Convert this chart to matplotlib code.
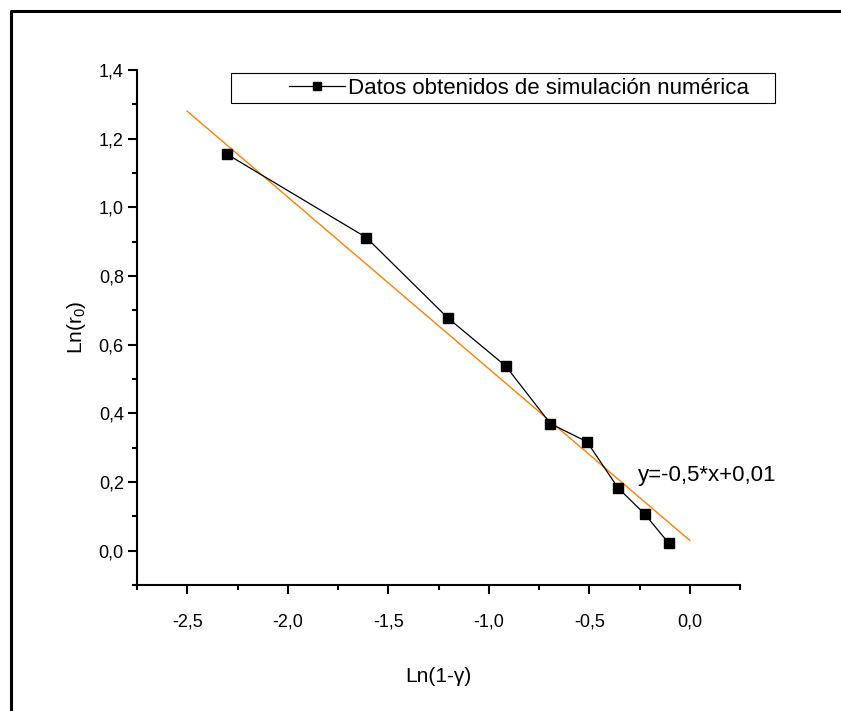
import matplotlib
matplotlib.use('Agg')
import matplotlib.pyplot as plt
from matplotlib.lines import Line2D
from matplotlib.patches import Rectangle
from matplotlib.ticker import MultipleLocator, FuncFormatter
import numpy as np

# Ln(1-gamma) vs Ln(r0) from numerical simulation
ln_1mg = [-2.303, -1.609, -1.204, -0.916, -0.693, -0.511, -0.357, -0.223, -0.105]
ln_r0  = [1.155, 0.912, 0.678, 0.538, 0.370, 0.317, 0.183, 0.106, 0.022]

# drawn fit line end points
fit_x = [-2.5, 0.0]
fit_y = [1.28, 0.03]

plt.rcParams.update({"font.family": ["Liberation Sans", "DejaVu Sans"],
                     "mathtext.fontset": "custom",
                     "mathtext.rm": "Liberation Sans",
                     "mathtext.it": "Liberation Sans"})

W, H = 841, 711
fig = plt.figure(figsize=(W / 100, H / 100), dpi=100)
ax = fig.add_axes([137 / W, 1 - 585 / H, (740 - 137) / W, (585 - 70) / H])

ax.plot(fit_x, fit_y, color="#ff8000", linewidth=1.0, zorder=2)
ax.plot(ln_1mg, ln_r0, color="black", linewidth=0.9, marker="s", markersize=6.5,
        markerfacecolor="black", markeredgecolor="black",
        label="Datos obtenidos de simulación numérica", zorder=3)

ax.set_xlim(-2.75, 0.25)
ax.set_ylim(-0.1, 1.4)
for s in ("top", "right"):
    ax.spines[s].set_visible(False)
for s in ("left", "bottom"):
    ax.spines[s].set_linewidth(1.5)

ax.xaxis.set_major_locator(MultipleLocator(0.5))
ax.xaxis.set_minor_locator(MultipleLocator(0.25))
ax.yaxis.set_major_locator(MultipleLocator(0.2))
ax.yaxis.set_minor_locator(MultipleLocator(0.1))
comma = FuncFormatter(lambda v, p: f"{v:.1f}".replace(".", ",").replace("-0,0", "0,0"))
ax.xaxis.set_major_formatter(comma)
ax.yaxis.set_major_formatter(comma)
ax.tick_params(which="major", direction="out", length=6.5, width=1.5, labelsize=13, pad=3)
ax.tick_params(which="minor", direction="out", length=3.6, width=1.5)
ax.tick_params(axis="x", pad=14)

ax.set_xlabel("Ln(1-γ)", fontsize=15, labelpad=26)
ax.set_ylabel("Ln(r$_0$)", fontsize=15, labelpad=8)

ax.text(-0.26, 0.22, "y=-0,5*x+0,01", fontsize=16, ha="left", va="center")

# legend: Origin style box with wide left margin
leg = ax.legend(loc="center left", bbox_to_anchor=(289 / W, 1 - 88 / H),
                bbox_transform=fig.transFigure, borderaxespad=0, fontsize=16,
                frameon=False, handlelength=2.5, handletextpad=0.15,
                borderpad=0, markerscale=0.8)
fig.add_artist(Rectangle((231 / W, 1 - 103 / H), (775 - 231) / W, 30 / H,
                         transform=fig.transFigure, fill=False,
                         edgecolor="black", linewidth=0.8))

# page border (left and top)
fig.add_artist(Line2D([11 / W, 11 / W, 1.0], [0.0, 1 - 11 / H, 1 - 11 / H],
                      transform=fig.transFigure, color="black", linewidth=2.2))

fig.savefig("out.png", dpi=100)
